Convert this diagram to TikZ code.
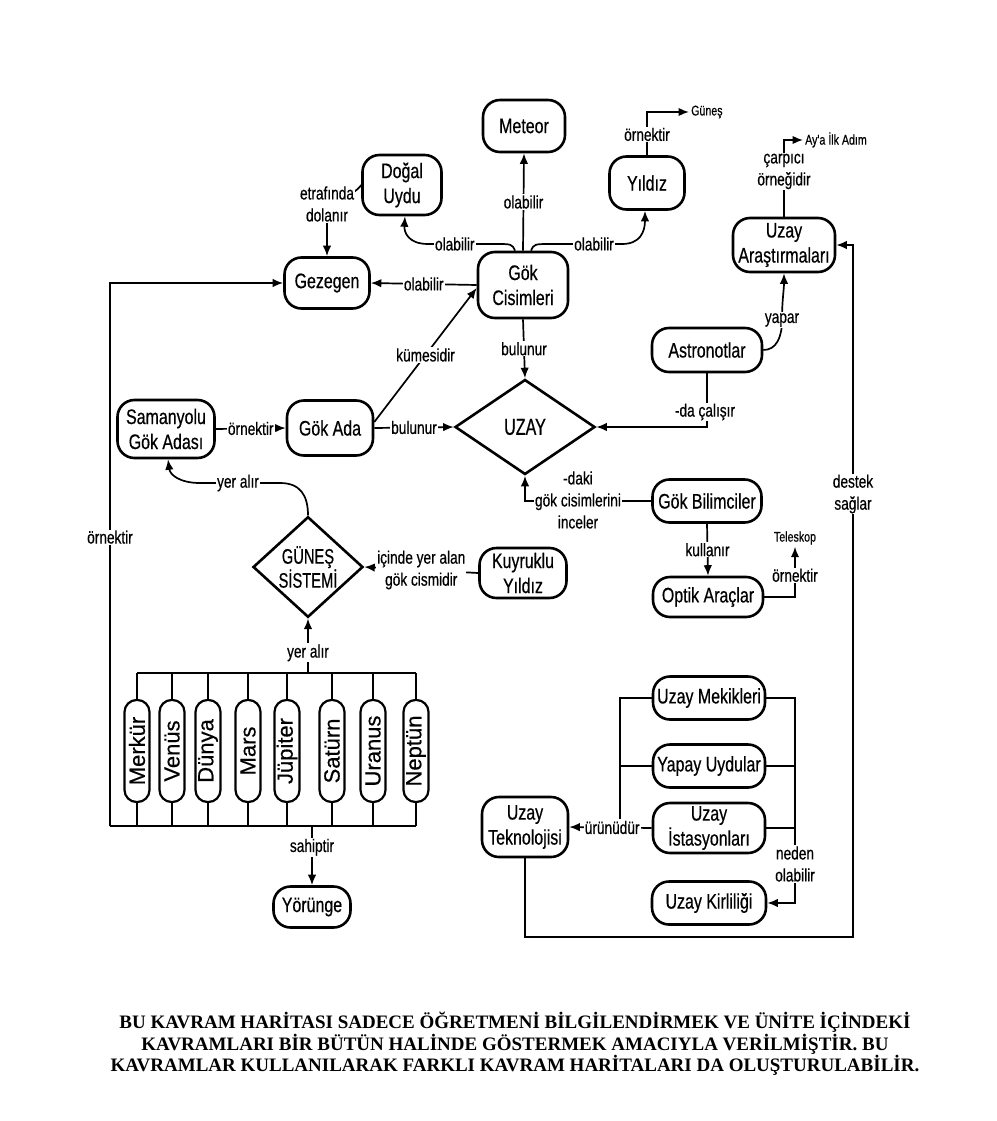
\documentclass[tikz,border=0pt]{standalone}
\usepackage{fontspec}
\usepackage{graphicx}
\setmainfont{Liberation Sans}
\newfontfamily\nar[FakeStretch=0.76,FakeBold=0.5]{Liberation Sans}
\newfontfamily\narr[FakeStretch=0.70,FakeBold=0.5]{Liberation Sans}
\newfontfamily\plfont[FakeBold=0.4]{Liberation Sans}
\newfontfamily\capfont{Liberation Serif}
\usetikzlibrary{shapes.geometric,arrows.meta}
\begin{document}
\begin{tikzpicture}[x=1pt,y=-1pt,
  cbox/.style={draw,line width=2.6pt,rounded corners=17pt,align=center,inner sep=1pt,font=\nar\fontsize{21}{25}\selectfont},
  dia/.style={draw,diamond,line width=2.6pt,inner sep=0pt,align=center},
  planet/.style={draw,line width=2.2pt,rounded corners=12pt,minimum width=25pt,minimum height=102pt,inner sep=0pt,font=\plfont\fontsize{22}{24}\selectfont},
  wire/.style={line width=1.7pt},
  conn/.style={line width=1.7pt,-{Latex[length=10.5pt,width=8.5pt]}},
  lab/.style={fill=white,inner sep=1pt,align=center,font=\nar\fontsize{18}{22}\selectfont},
  smalltxt/.style={inner sep=2pt,font=\nar\fontsize{14}{16}\selectfont}]
\fill[white] (0,0) rectangle (996,1121);
\useasboundingbox (0,0) rectangle (996,1121);

% main nodes
\node[cbox,minimum width=82pt,minimum height=52pt] (meteor) at (524,126) {Meteor};
\node[cbox,minimum width=79pt,minimum height=60pt] (dogal) at (402,185) {Doğal\\Uydu};
\node[cbox,minimum width=75pt,minimum height=53pt] (yildiz) at (647,183) {Yıldız};
\node[cbox,minimum width=85pt,minimum height=51pt] (gezegen) at (327,283) {Gezegen};
\node[cbox,minimum width=90pt,minimum height=66pt] (gokcis) at (523,285) {Gök\\Cisimleri};
\node[cbox,minimum width=102pt,minimum height=54pt] (uzayars) at (784,245) {Uzay\\Araştırmaları};
\node[cbox,minimum width=110pt,minimum height=44pt] (astro) at (707,350) {Astronotlar};
\node[dia,minimum width=140pt,minimum height=95pt,font=\narr\fontsize{23}{26}\selectfont] (uzay) at (525,427) {UZAY};
\node[cbox,minimum width=97pt,minimum height=58pt] (saman) at (166,429) {Samanyolu\\Gök Adası};
\node[cbox,minimum width=86pt,minimum height=55pt] (gokada) at (330,428) {Gök Ada};
\node[dia,minimum width=110pt,minimum height=100pt,font=\narr\fontsize{21}{24}\selectfont] (gunes) at (308,567) {GÜNEŞ\\SİSTEMİ};
\node[cbox,minimum width=87pt,minimum height=50pt] (kuyruk) at (523,573) {Kuyruklu\\Yıldız};
\node[cbox,minimum width=109pt,minimum height=43pt] (gokbil) at (707,501) {Gök Bilimciler};
\node[cbox,minimum width=110pt,minimum height=40pt] (optik) at (708,597) {Optik Araçlar};
\node[cbox,minimum width=77pt,minimum height=41pt] (yorunge) at (312,907) {Yörünge};
\node[cbox,minimum width=112pt,minimum height=43pt] (mekik) at (709,698) {Uzay Mekikleri};
\node[cbox,minimum width=112pt,minimum height=43pt] (yapay) at (709,766) {Yapay Uydular};
\node[cbox,minimum width=112pt,minimum height=50pt] (istas) at (709,828) {Uzay\\İstasyonları};
\node[cbox,minimum width=114pt,minimum height=43pt] (kirli) at (709,903) {Uzay Kirliliği};
\node[cbox,minimum width=86pt,minimum height=60pt] (tekno) at (525,827) {Uzay\\Teknolojisi};

% small text targets
\node[smalltxt,anchor=west] (gunestxt) at (689,112) {Güneş};
\node[smalltxt,anchor=west] (aya) at (803,140) {Ay'a İlk Adım};
\node[smalltxt] (teles) at (795,538) {Teleskop};

% planets
\foreach \n/\x/\t in {merkur/137/Merkür,venus/172/Venüs,dunya/208/Dünya,mars/248/Mars,jupiter/287/Jüpiter,saturn/332/Satürn,uranus/373/Uranus,neptun/416/Neptün}{
  \node[planet] (\n) at (\x,751) {\rotatebox{90}{\t}};
}
\coordinate (tbL) at (137,673);
\coordinate (tbR) at (416,673);
\coordinate (tbM) at (308,673);
\coordinate (bbL) at (110,826);
\coordinate (bbR) at (416,826);
\coordinate (bbM) at (312,826);
\draw[wire] (tbL) -- (tbR);
\draw[wire] (bbL) -- (bbR);
\foreach \n in {merkur,venus,dunya,mars,jupiter,saturn,uranus,neptun}{
  \draw[wire] (\n.north) -- (\n.north |- tbL);
  \draw[wire] (\n.south) -- (\n.south |- bbL);
}
\draw[conn] (tbM) -- node[lab,pos=0.37] (l_yer2) {yer alır} (gunes.south);
\draw[conn] (bbM) -- node[lab,pos=0.36] (l_sahip) {sahiptir} (yorunge.north);
\draw[conn] (bbL) |- node[lab,pos=0.266] (l_ornek1) {örnektir} (gezegen.west);

% Gök Cisimleri connections
\draw[conn] (gokcis.north) -- node[lab] (l_ola2) {olabilir} (meteor.south);
\draw[conn] ([xshift=-8pt]gokcis.north) .. controls (512,244) .. (495,244) -- node[lab,pos=0.6] (l_ola1) {olabilir} (428,244) .. controls (408,244) and (404,232) .. ([xshift=3pt]dogal.south);
\draw[conn] ([xshift=8pt]gokcis.north) .. controls (534,244) .. (552,244) -- node[lab,pos=0.6] (l_ola3) {olabilir} (622,244) .. controls (640,244) and (645,232) .. ([xshift=-2pt]yildiz.south);
\draw[conn] (gokcis.west) -- node[lab] (l_ola4) {olabilir} (gezegen.east);
\draw[conn] (gokcis.south) -- node[lab] (l_bul1) {bulunur} (uzay.north);

\coordinate (etrafC) at (327,204);
\draw[conn] (dogal.west) .. controls (358,190) and (350,196) .. (etrafC) -- (gezegen.north);
\node[lab] (l_etraf) at (etrafC) {etrafında\\dolanır};

\draw[conn] (yildiz.north) |- node[lab,pos=0.24] (l_ornek2) {örnektir} (gunestxt.west);

% Gök Ada
\draw[conn] ([yshift=6pt]gokada.east) -- node[lab] (l_kume) {kümesidir} ([yshift=-3pt]gokcis.west);
\draw[conn] (gokada.east) -- node[lab] (l_bul2) {bulunur} (uzay.west);
\draw[conn] (saman.east) -- node[lab] (l_ornek4) {örnektir} (gokada.west);
\draw[conn] (gunes.north) .. controls (308,495) and (300,483) .. (280,483) -- (200,483) .. controls (180,483) and (170,475) .. ([xshift=2pt]saman.south);
\node[lab] (l_yer1) at (238,483) {yer alır};
\draw[conn] (kuyruk.west) -- node[lab] (l_icinde) {içinde yer alan\\gök cismidir} (gunes.east);

% right side
\draw[conn] (astro.east) .. controls (776,350) and (782,338) .. (782,320) .. controls (782,300) and (784,290) .. (uzayars.south);
\node[lab] (l_yapar) at (782,320) {yapar};
\draw[conn] (uzayars.north) |- node[lab,pos=0.295] (l_carp) {çarpıcı\\örneğidir} (aya.west);
\draw[conn] (astro.south) |- (uzay.east);
\node[lab] (l_da) at (705,412) {-da çalışır};
\draw[conn] (gokbil.west) -| (uzay.south);
\node[lab] (l_daki) at (578,500) {-daki\\gök cisimlerini\\inceler};
\draw[conn] (gokbil.south) -- node[lab] (l_kullan) {kullanır} (optik.north);
\draw[conn] (optik.east) -| node[lab,pos=0.716] (l_ornek3) {örnektir} (teles.south);

% technology cluster
\draw[conn] (istas.west) -- node[lab,pos=0.48] (l_urun) {ürünüdür} (tekno.east);
\coordinate (lbT) at (620,698);
\draw[wire] (mekik.west) -- (lbT) -- (lbT |- l_urun.north);
\draw[wire] (yapay.west) -- (yapay.west -| lbT);
\coordinate (rbT) at (795,698);
\coordinate (rbB) at (795,903);
\draw[conn] (mekik.east) -- (rbT) -- (rbB) -- (kirli.east);
\draw[wire] (yapay.east) -- (yapay.east -| rbT);
\draw[wire] (istas.east) -- (istas.east -| rbT);
\node[lab] (l_neden) at (795,864) {neden\\olabilir};
\coordinate (dsB) at (853,937);
\draw[conn] (tekno.south) |- (dsB) |- (uzayars.east);
\node[lab] (l_destek) at (853,494) {destek\\sağlar};

% caption
\node[font=\capfont\bfseries\fontsize{19}{21.5}\selectfont,align=center] (caption) at (515,1044) {BU KAVRAM HARİTASI SADECE ÖĞRETMENİ BİLGİLENDİRMEK VE ÜNİTE İÇİNDEKİ\\KAVRAMLARI BİR BÜTÜN HALİNDE GÖSTERMEK AMACIYLA VERİLMİŞTİR. BU\\KAVRAMLAR KULLANILARAK FARKLI KAVRAM HARİTALARI DA OLUŞTURULABİLİR.};
\end{tikzpicture}
\end{document}
